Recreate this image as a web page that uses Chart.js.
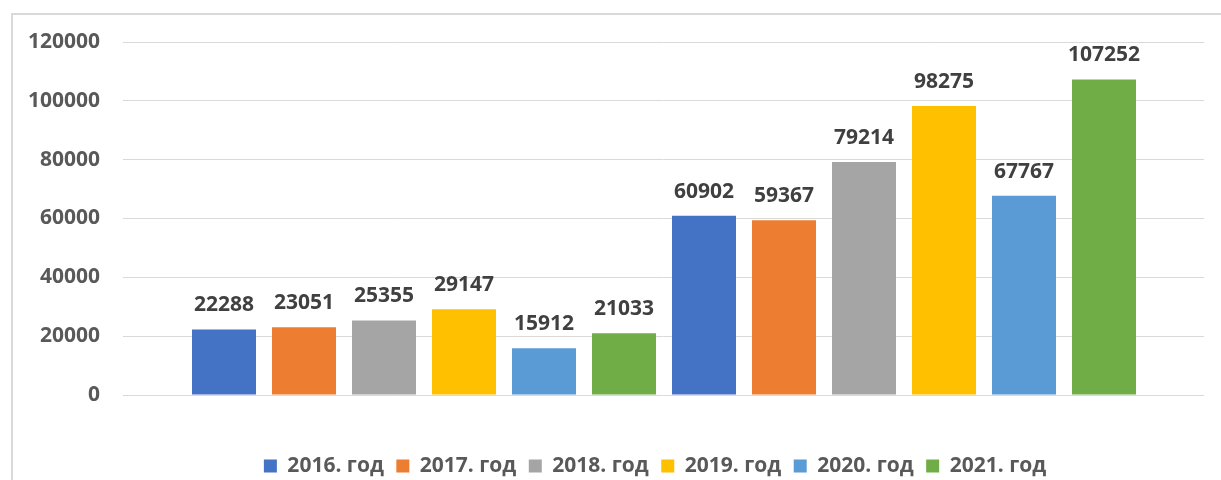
<!DOCTYPE html>
<html>
<head>
<meta charset="utf-8">
<script src="https://cdn.jsdelivr.net/npm/chart.js@4.4.1/dist/chart.umd.min.js"></script>
<style>
  html, body { margin: 0; padding: 0; background: #ffffff; overflow: hidden; }
  #wrap { position: relative; width: 1221px; height: 480px; }
  #frame { position: absolute; left: 11px; top: 13px; right: -20px; bottom: -20px;
           border: 2px solid #d9d9d9; box-sizing: border-box; pointer-events: none; }
  canvas { position: absolute; left: 0; top: 0; }
</style>
</head>
<body>
<div id="wrap">
  <div id="frame"></div>
  <canvas id="c" width="1221" height="480"></canvas>
</div>
<script>
// ---- data ----
const seriesNames = ['2016. год', '2017. год', '2018. год', '2019. год', '2020. год', '2021. год'];
const group1Values = [22288, 23051, 25355, 29147, 15912, 21033];
const group2Values = [60902, 59367, 79214, 98275, 67767, 107252];
const yTicks = [0, 20000, 40000, 60000, 80000, 100000, 120000];

const colors = ['#4472C4', '#ED7D31', '#A5A5A5', '#FFC000', '#5B9BD5', '#70AD47'];
const FONT = '"Open Sans", "Noto Sans", sans-serif';

const datasets = seriesNames.map((name, i) => ({
  label: name,
  data: [
    { x: i + 1, y: group1Values[i] },
    { x: i + 1 + seriesNames.length, y: group2Values[i] }
  ],
  backgroundColor: colors[i],
  borderWidth: 0,
  grouped: false,
  categoryPercentage: 1,
  barPercentage: 0.8
}));

const valueLabels = {
  id: 'valueLabels',
  afterDatasetsDraw(chart) {
    const ctx = chart.ctx;
    ctx.save();
    ctx.font = '700 21px ' + FONT;
    ctx.fillStyle = '#404040';
    ctx.textAlign = 'center';
    ctx.textBaseline = 'middle';
    chart.data.datasets.forEach((ds, i) => {
      chart.getDatasetMeta(i).data.forEach((el, j) => {
        ctx.fillText(String(ds.data[j].y), el.x, el.y - 24);
      });
    });
    ctx.restore();
  }
};

// centre the legend row the way the original does (slightly right of canvas centre)
const legendShift = {
  id: 'legendShift',
  afterLayout(chart) {
    const lg = chart.legend;
    if (lg) { lg.left += 43; lg.right += 43; }
  }
};

new Chart(document.getElementById('c'), {
  type: 'bar',
  data: { datasets },
  plugins: [valueLabels, legendShift],
  options: {
    responsive: false,
    animation: false,
    layout: { padding: { left: 20, right: 17, top: 42, bottom: -6.5 } },
    scales: {
      x: {
        type: 'linear',
        min: -0.2625,
        max: 13.25,
        grid: { display: false },
        border: { display: false },
        ticks: { display: false },
        afterBuildTicks: (scale) => { scale.ticks = []; },
        afterFit: (scale) => { scale.height = 48; }
      },
      y: {
        min: yTicks[0],
        max: yTicks[yTicks.length - 1],
        afterBuildTicks: (scale) => { scale.ticks = yTicks.map(v => ({ value: v })); },
        afterFit: (scale) => { scale.width = 103; },
        grid: { color: '#d9d9d9', lineWidth: 1, drawTicks: false },
        border: { display: false },
        ticks: {
          padding: 23,
          color: '#595959',
          font: { family: FONT, size: 21, weight: '700' },
          callback: (value) => String(value)
        }
      }
    },
    plugins: {
      legend: {
        position: 'bottom',
        labels: {
          boxWidth: 13,
          boxHeight: 13,
          padding: 12.5,
          color: '#595959',
          font: { family: FONT, size: 21, weight: '700' }
        }
      },
      tooltip: { enabled: false }
    }
  }
});
</script>
</body>
</html>
